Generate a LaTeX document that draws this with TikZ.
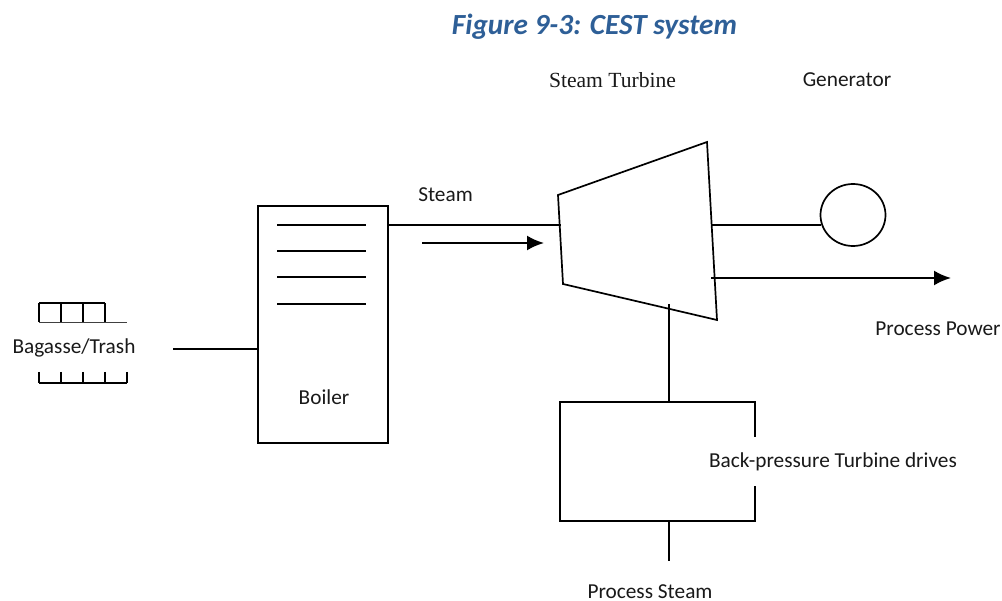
\documentclass[tikz,border=0pt]{standalone}
\usepackage{fontspec}
\setmainfont{Carlito}
\newfontfamily\serifface{Liberation Serif}
\usetikzlibrary{arrows.meta,shapes.geometric}
\definecolor{titleblue}{HTML}{2E5F97}
\tikzset{
  ln/.style={draw=black,line width=1.7pt},
  thin ln/.style={draw=black!75,line width=0.9pt},
  flow/.style={draw=black,line width=2.2pt,-{Latex[length=17pt,width=15pt]}},
  lab/.style={font=\fontsize{21.3}{24}\selectfont,text=black!90,inner sep=0pt,anchor=center},
  box/.style={ln,inner sep=0pt,anchor=north west,fill=none}
}
\begin{document}
\begin{tikzpicture}[x=1pt,y=-1pt]
\useasboundingbox (0,0) rectangle (1002,601);
\node[inner sep=0pt,font=\fontsize{29.2}{32}\selectfont\bfseries\itshape,text=titleblue] (title) at (594.5,27) {Figure 9-3: CEST system};
% boiler
\node[box,minimum width=130pt,minimum height=237pt] (boiler) at (257,205) {};
\foreach \n/\yy in {a/225,b/251,c/277,d/304}{
  \coordinate (l\n) at (277,\yy); \coordinate (r\n) at (366,\yy);
  \draw[ln,line width=1.4pt] (l\n) -- (r\n);
}
% turbine
\coordinate (t1) at (558,195); \coordinate (t2) at (707,142);
\coordinate (t3) at (717,320); \coordinate (t4) at (563,284);
\draw[ln,line join=miter] (t1) -- (t2) -- (t3) -- (t4) -- cycle;
% generator
\node[ln,ellipse,minimum width=65pt,minimum height=62pt,inner sep=0pt] (gen) at (853,215) {};
% process box
\coordinate (p1) at (560,402); \coordinate (p2) at (755,402);
\coordinate (p3) at (755,521); \coordinate (p4) at (560,521);
\draw[ln] (p1) -- (p2) -- (p3) -- (p4) -- cycle;
% connectors
\coordinate (s1) at (387,225); \coordinate (s2) at (561,225);
\draw[ln] (s1) -- (s2);
\coordinate (a1) at (422,243); \coordinate (a2) at (544,243);
\draw[flow] (a1) -- (a2);
\coordinate (g1) at (712,225); \coordinate (g2) at (820.5,225);
\draw[ln] (g1) -- (g2);
\coordinate (w1) at (711,278); \coordinate (w2) at (951,278);
\draw[flow] (w1) -- (w2);
\coordinate (v1) at (669,304); \coordinate (v2) at (669,402);
\draw[ln] (v1) -- (v2);
\coordinate (v3) at (669,521); \coordinate (v4) at (669,561);
\draw[ln] (v3) -- (v4);
\coordinate (b1) at (173,349); \coordinate (b2) at (257,349);
\draw[ln] (b1) -- (b2);
% bagasse grate upper
\coordinate (u0) at (39,303); \coordinate (u3) at (105,303);
\draw[ln] (u0) -- (u3);
\foreach \xx in {39,61,83,105}{\draw[ln] (\xx,303) -- (\xx,322);}
\draw[thin ln] (39,322) -- (127,322);
% bagasse grate lower
\draw[ln] (39,383) -- (127,383);
\foreach \xx in {39,61,83,105,127}{\draw[ln] (\xx,372) -- (\xx,383);}
% labels
\node[lab,font=\fontsize{21.6}{24}\selectfont\serifface] (st) at (612.5,80) {Steam Turbine};
\node[lab] (gl) at (847,79.5) {Generator};
\node[lab] (sl) at (445.5,195) {Steam};
\node[lab] (bl) at (324,397.5) {Boiler};
\node[lab] (bt) at (74,348) {Bagasse/Trash};
\node[lab] (pp) at (938,329) {Process Power};
\node[lab,fill=white,minimum height=49pt,inner xsep=2pt] (bp) at (833,461.5) {Back-pressure Turbine drives};
\node[lab] (ps) at (650,592) {Process Steam};
\end{tikzpicture}
\end{document}
